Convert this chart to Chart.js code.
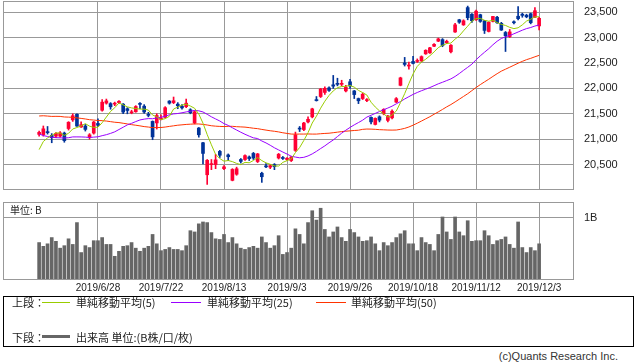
<!DOCTYPE html>
<html>
<head>
<meta charset="utf-8">
<script src="https://cdn.jsdelivr.net/npm/chart.js@4.4.1/dist/chart.umd.min.js"></script>
<style>
  body { margin: 0; background: #fff; }
  #page { position: relative; width: 638px; height: 362px; overflow: hidden; color: #222;
          font-family: "Noto Sans CJK JP", "Liberation Sans", sans-serif; font-size: 11px; }
  .abs { position: absolute; white-space: nowrap; line-height: 13px; }
  .line { position: absolute; }
</style>
</head>
<body>
<div id="page">
  <div class="abs" style="left:0;top:0;width:638px;height:191px"><canvas id="priceChart"></canvas></div>
  <div class="abs" style="left:0;top:195px;width:638px;height:100px"><canvas id="volChart"></canvas></div>
  <div class="abs" style="left:10px;top:203px;font-size:10px">単位: B</div>

  <!-- legend box -->
  <div class="abs" style="left:3px;top:296px;width:629px;height:49px;border:1px solid #000"></div>
  <div class="abs" style="left:12px;top:296px">上段：</div>
  <div class="line" style="left:42px;top:302px;width:28px;height:1px;background:#99cc00"></div>
  <div class="abs" style="left:76px;top:296px">単純移動平均(5)</div>
  <div class="line" style="left:171px;top:302px;width:30px;height:1px;background:#9900ff"></div>
  <div class="abs" style="left:207px;top:296px">単純移動平均(25)</div>
  <div class="line" style="left:316px;top:302px;width:30px;height:1px;background:#ff3300"></div>
  <div class="abs" style="left:351px;top:296px">単純移動平均(50)</div>
  <div class="abs" style="left:12px;top:331px">下段：</div>
  <div class="line" style="left:42px;top:335px;width:28px;height:3px;background:#666"></div>
  <div class="abs" style="left:76px;top:331px">出来高 単位:(B株/口/枚)</div>

  <div class="abs" style="right:20px;top:350px;font-family:'Liberation Sans',sans-serif;color:#333">(c)Quants Research Inc.</div>
</div>
<script>
//trading days shown
var dates = [
  '2019/6/10','2019/6/11','2019/6/12','2019/6/13','2019/6/14','2019/6/17','2019/6/18','2019/6/19','2019/6/20','2019/6/21','2019/6/24','2019/6/25','2019/6/26','2019/6/27','2019/6/28',
  '2019/7/1','2019/7/2','2019/7/3','2019/7/4','2019/7/5','2019/7/8','2019/7/9','2019/7/10','2019/7/11','2019/7/12','2019/7/16','2019/7/17','2019/7/18','2019/7/19','2019/7/22',
  '2019/7/23','2019/7/24','2019/7/25','2019/7/26','2019/7/29','2019/7/30','2019/7/31','2019/8/1','2019/8/2','2019/8/5','2019/8/6','2019/8/7','2019/8/8','2019/8/9','2019/8/13',
  '2019/8/14','2019/8/15','2019/8/16','2019/8/19','2019/8/20','2019/8/21','2019/8/22','2019/8/23','2019/8/26','2019/8/27','2019/8/28','2019/8/29','2019/8/30','2019/9/2','2019/9/3',
  '2019/9/4','2019/9/5','2019/9/6','2019/9/9','2019/9/10','2019/9/11','2019/9/12','2019/9/13','2019/9/17','2019/9/18','2019/9/19','2019/9/20','2019/9/24','2019/9/25','2019/9/26',
  '2019/9/27','2019/9/30','2019/10/1','2019/10/2','2019/10/3','2019/10/4','2019/10/7','2019/10/8','2019/10/9','2019/10/10','2019/10/11','2019/10/15','2019/10/16','2019/10/17','2019/10/18',
  '2019/10/21','2019/10/23','2019/10/24','2019/10/25','2019/10/28','2019/10/29','2019/10/30','2019/10/31','2019/11/1','2019/11/5','2019/11/6','2019/11/7','2019/11/8','2019/11/11','2019/11/12',
  '2019/11/13','2019/11/14','2019/11/15','2019/11/18','2019/11/19','2019/11/20','2019/11/21','2019/11/22','2019/11/25','2019/11/26','2019/11/27','2019/11/28','2019/11/29','2019/12/2','2019/12/3'
]
var tickDates = ['2019/6/28','2019/7/22','2019/8/13','2019/9/3','2019/9/26','2019/10/18','2019/11/12','2019/12/3']

var opens = [
  21095,21090,21140,21075,21060,21060,21120,21210,21380,21490,21240,21260,21040,21120,21310,
  21570,21710,21700,21690,21720,21690,21600,21520,21540,21690,21650,21490,21350,21320,21390,
  21430,21750,21720,21690,21650,21640,21580,21320,21220,20930,20300,20500,20500,20760,20420,
  20690,20190,20310,20600,20600,20650,20720,20560,20330,20470,20450,20500,20630,20640,20600,
  20580,20780,21210,21190,21340,21440,21770,21840,21920,22010,22070,22100,22080,21950,22130,
  21950,21800,21800,21760,21430,21290,21440,21500,21370,21420,21730,22060,22500,22440,22530,
  22530,22540,22680,22700,22830,22930,22960,22900,22720,23110,23350,23250,23590,23460,23350,
  23450,23330,23120,23320,23400,23280,23100,23020,23300,23420,23460,23440,23470,23400,23229
]
var highs = [
  21160,21260,21250,21110,21130,21150,21140,21345,21500,21500,21340,21290,21110,21350,21400,
  21780,21790,21720,21730,21760,21700,21620,21570,21660,21720,21680,21530,21360,21500,21480,
  21640,21760,21830,21720,21680,21790,21600,21560,21230,20940,20600,20600,20700,20780,20480,
  20710,20420,20450,20620,20690,20670,20740,20720,20350,20520,20500,20520,20720,20660,20640,
  20660,21140,21250,21330,21440,21610,21840,22000,22030,22030,22255,22200,22160,22060,22180,
  21960,21810,21910,21800,21440,21420,21460,21600,21470,21580,21820,22220,22610,22520,22630,
  22580,22640,22760,22810,22880,22990,22980,22950,22860,23280,23360,23350,23620,23470,23540,
  23460,23340,23310,23420,23420,23300,23120,23160,23330,23610,23480,23460,23480,23590,23400
]
var lows = [
  21060,21060,21100,20930,21030,21040,20940,21180,21350,21250,21230,21160,21000,21100,21250,
  21550,21690,21590,21660,21700,21500,21500,21500,21530,21600,21510,21440,20990,21200,21380,
  21420,21690,21700,21600,21590,21620,21500,21300,21040,20514,20110,20400,20420,20640,20400,
  20580,20180,20290,20530,20580,20580,20600,20540,20150,20440,20420,20400,20610,20600,20580,
  20560,20760,21150,21170,21320,21420,21750,21820,21880,21940,22000,22050,22050,21930,22000,
  21800,21700,21780,21740,21300,21280,21340,21480,21340,21400,21720,22050,22440,22380,22480,
  22510,22530,22670,22690,22820,22920,22820,22880,22700,23100,23280,23240,23350,23300,23340,
  23300,23080,23110,23310,23280,23140,22726,23000,23270,23350,23400,23390,23270,23390,23150
]
var closes = [
  21134,21204,21129,21032,21116,21124,20972,21333,21462,21258,21285,21193,21086,21338,21275,
  21729,21754,21638,21702,21746,21534,21565,21533,21643,21685,21535,21469,21046,21466,21416,
  21620,21709,21756,21658,21616,21709,21521,21540,21087,20720,20585,20516,20593,20684,20455,
  20655,20405,20418,20563,20677,20618,20628,20710,20261,20456,20479,20460,20704,20620,20625,
  20649,21085,21199,21318,21392,21597,21759,21988,22001,21960,22044,22079,22098,22020,22048,
  21878,21756,21885,21778,21341,21410,21375,21587,21456,21551,21798,22207,22472,22451,22492,
  22548,22625,22750,22799,22867,22974,22843,22927,22850,23251,23303,23330,23391,23331,23520,
  23319,23141,23303,23416,23292,23148,23038,23112,23292,23373,23437,23409,23293,23529,23379
]
//closes before the window, needed for the moving averages at the left edge
var earlierCloses = [
  20977,21428,21378,21033,21205,
  21509,21505,21713,21724,21807,21761,21802,21687,21711,21870,22169,22221,22277,22090,22200,22217,22259,22200,22307,22258,
  21923,21602,21402,21344,21191,21067,21188,21062,21250,21301,21272,21283,21151,21117,21182,21260,21003,20942,20601,
  20410,20408,20776,20774,20884
]
//volume, billions
var volumes = [
  0.60,0.54,0.58,0.68,0.62,0.51,0.55,0.66,0.57,0.92,0.44,0.55,0.52,0.63,0.63,
  0.68,0.57,0.57,0.38,0.46,0.54,0.55,0.60,0.51,0.46,0.51,0.54,0.73,0.58,0.47,
  0.49,0.52,0.49,0.49,0.47,0.55,0.79,0.77,0.90,0.93,0.92,0.76,0.66,0.65,0.73,
  0.60,0.68,0.58,0.51,0.49,0.52,0.54,0.51,0.69,0.60,0.51,0.55,0.71,0.41,0.44,
  0.51,0.82,0.73,0.58,0.92,1.11,0.96,1.15,0.81,0.69,0.77,0.85,0.68,0.62,0.81,
  0.76,0.69,0.62,0.63,0.69,0.58,0.47,0.60,0.55,0.60,0.68,0.74,0.79,0.58,0.58,
  0.47,0.68,0.60,0.57,0.47,0.73,1.01,0.77,0.65,1.01,0.77,0.71,0.95,0.62,0.63,
  0.63,0.79,0.71,0.57,0.63,0.65,0.69,0.57,0.51,0.93,0.52,0.44,0.52,0.47,0.58
]
var priceTicks = [20500, 21000, 21500, 22000, 22500, 23000, 23500]
var volTicks = [1]

var upColor = '#ff0033'
var downColor = '#003399'
var gridColor = '#999999'
var tickIdx = tickDates.map(function (d) { return dates.indexOf(d) })

Chart.defaults.font.family = "'Liberation Sans', sans-serif"
Chart.defaults.color = '#222'

//simple moving average over closes
function sma(n) {
  var all = earlierCloses.concat(closes)
  var off = earlierCloses.length
  return closes.map(function (c, i) {
    var s = 0
    for (var k = off + i - n + 1; k <= off + i; k++) s += all[k]
    return { x: i, y: s / n }
  })
}

var candleColors = closes.map(function (c, i) { return c >= opens[i] ? upColor : downColor })

//chart area outline
var framePlugin = {
  id: 'frame',
  afterDraw: function (chart) {
    var a = chart.chartArea, ctx = chart.ctx
    ctx.save()
    ctx.strokeStyle = gridColor
    ctx.lineWidth = 1
    ctx.strokeRect(Math.round(a.left) + 0.5, Math.round(a.top) + 0.5,
      Math.round(a.right - a.left) - 1, Math.round(a.bottom - a.top) - 1)
    ctx.restore()
  }
}

//no label padding around the plot, the layout padding does that
function noPad(s) {
  s.paddingTop = 0
  s.paddingBottom = 0
  s.paddingLeft = 0
  s.paddingRight = 0
}

function xScale(showLabels) {
  return {
    type: 'linear',
    min: -8.6,
    max: 127.3,
    offset: false,
    grid: { color: gridColor, drawTicks: false, offset: false },
    border: { display: false },
    ticks: {
      display: showLabels,
      autoSkip: false,
      maxRotation: 0,
      padding: 2,
      color: '#222',
      font: { size: 10 },
      callback: function (v) { return dates[v] }
    },
    afterBuildTicks: function (s) { s.ticks = tickIdx.map(function (v) { return { value: v } }) },
    afterFit: function (s) { s.height = showLabels ? 15 : 0; noPad(s) }
  }
}

function yScale(min, max, ticks, fmt) {
  return {
    position: 'right',
    min: min,
    max: max,
    beginAtZero: false,
    grid: { color: gridColor, drawTicks: false },
    border: { display: false },
    ticks: { padding: 10, color: '#222', font: { size: 11 }, callback: fmt },
    afterBuildTicks: function (s) { s.ticks = ticks.map(function (v) { return { value: v } }) },
    afterFit: function (s) { s.width = 64; noPad(s) }
  }
}

new Chart(document.getElementById('priceChart'), {
  type: 'bar',
  data: {
    datasets: [
      { type: 'line', data: sma(5), borderColor: '#99cc00', borderWidth: 1, pointRadius: 0, order: 0 },
      { type: 'line', data: sma(25), borderColor: '#9900ff', borderWidth: 1, pointRadius: 0, order: 0 },
      { type: 'line', data: sma(50), borderColor: '#ff3300', borderWidth: 1, pointRadius: 0, order: 0 },
      {
        data: closes.map(function (c, i) { return { x: i, y: [opens[i], c] } }),
        backgroundColor: candleColors, barThickness: 3, minBarLength: 1, grouped: false, order: 1
      },
      {
        data: closes.map(function (c, i) { return { x: i, y: [lows[i], highs[i]] } }),
        backgroundColor: candleColors, barThickness: 1, grouped: false, order: 2
      }
    ]
  },
  options: {
    responsive: true,
    maintainAspectRatio: false,
    animation: false,
    layout: { padding: { left: 3, top: 1, right: 0, bottom: 1 } },
    plugins: { legend: { display: false }, tooltip: { enabled: false } },
    scales: {
      x: xScale(false),
      y: yScale(20000, 23720, priceTicks, function (v) { return v.toLocaleString('en-US') })
    }
  },
  plugins: [framePlugin]
})

new Chart(document.getElementById('volChart'), {
  type: 'bar',
  data: {
    datasets: [{
      data: volumes.map(function (v, i) { return { x: i, y: v } }),
      backgroundColor: '#666666', barThickness: 3
    }]
  },
  options: {
    responsive: true,
    maintainAspectRatio: false,
    animation: false,
    layout: { padding: { left: 3, top: 7, right: 0, bottom: 0 } },
    plugins: { legend: { display: false }, tooltip: { enabled: false } },
    scales: {
      x: xScale(true),
      y: yScale(0, 1.25, volTicks, function (v) { return v + 'B' })
    }
  },
  plugins: [framePlugin]
})
</script>
</body>
</html>
